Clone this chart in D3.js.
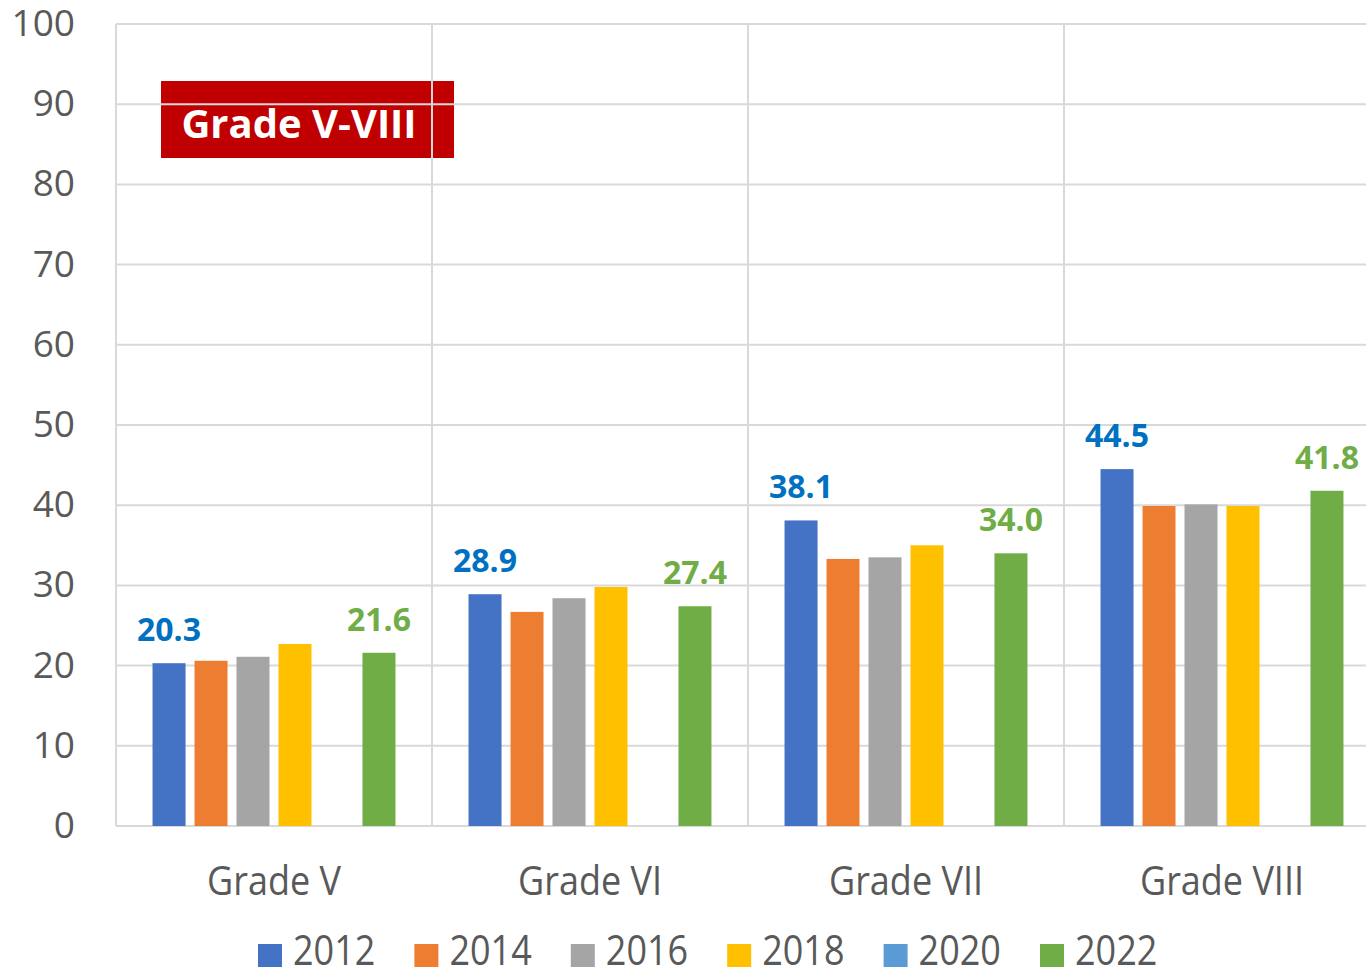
<!DOCTYPE html>
<html>
<head>
<meta charset="utf-8">
<style>
    body { margin: 0; background: #fff; }
    svg { display: block; font-family: 'Open Sans', 'Noto Sans', sans-serif; }
</style>
</head>
<body>
<svg width="1366" height="970"></svg>

<script src="https://d3js.org/d3.v7.min.js"></script>
<script>
    // data
    const grades = ["Grade V", "Grade VI", "Grade VII", "Grade VIII"];
    const years = ["2012", "2014", "2016", "2018", "2020", "2022"];
    const colors = ["#4472C4", "#ED7D31", "#A5A5A5", "#FFC000", "#5B9BD5", "#70AD47"];
    const v2012 = [20.3, 28.9, 38.1, 44.5];
    const v2014 = [20.6, 26.7, 33.3, 39.9];
    const v2016 = [21.1, 28.4, 33.5, 40.1];
    const v2018 = [22.7, 29.8, 35.0, 39.9];
    const v2020 = [null, null, null, null];
    const v2022 = [21.6, 27.4, 34.0, 41.8];
    const yTicks = [0, 10, 20, 30, 40, 50, 60, 70, 80, 90, 100];

    const series = [v2012, v2014, v2016, v2018, v2020, v2022];

    let svg = d3.select("svg");
    let plotLeft = 116, plotRight = 1380, plotTop = 24, plotBottom = 826;

    let x = d3.scaleBand().domain(grades).range([plotLeft, plotRight]);
    let xi = d3.scaleBand().domain(years).range([0, x.bandwidth()])
        .paddingInner(0.214).paddingOuter(0.87);
    let y = d3.scaleLinear().domain([0, 100]).range([plotBottom, plotTop]);

    // title box (sits under the gridlines)
    svg.append("rect")
        .attr("x", 161).attr("y", 81).attr("width", 293).attr("height", 77)
        .style("fill", "#C00000");
    svg.append("text")
        .attr("x", 299).attr("y", 138)
        .attr("text-anchor", "middle")
        .style("font-size", "40px").style("font-weight", "bold")
        .style("fill", "#fff")
        .text("Grade V-VIII");

    // horizontal gridlines
    svg.append("g").selectAll("line")
        .data(yTicks)
        .join("line")
        .attr("x1", plotLeft).attr("x2", plotRight)
        .attr("y1", d => y(d)).attr("y2", d => y(d))
        .style("stroke", "#D9D9D9").style("stroke-width", 2);

    // vertical gridlines at category boundaries
    svg.append("g").selectAll("line")
        .data(grades)
        .join("line")
        .attr("x1", d => x(d)).attr("x2", d => x(d))
        .attr("y1", plotTop).attr("y2", plotBottom)
        .style("stroke", "#D9D9D9").style("stroke-width", 2);

    // y tick labels
    svg.append("g").selectAll("text")
        .data(yTicks)
        .join("text")
        .attr("x", 75).attr("y", d => y(d) + 12)
        .attr("text-anchor", "end")
        .style("font-size", "37px").style("fill", "#595959")
        .text(d => d);

    // bars
    let flat = [];
    series.forEach((s, si) => {
        s.forEach((v, gi) => {
            if (v != null) flat.push({ grade: grades[gi], year: years[si], color: colors[si], value: v });
        });
    });

    svg.append("g").selectAll("rect")
        .data(flat)
        .join("rect")
        .attr("x", d => x(d.grade) + xi(d.year))
        .attr("y", d => y(d.value))
        .attr("width", xi.bandwidth())
        .attr("height", d => y(0) - y(d.value))
        .style("fill", d => d.color);

    // value labels for 2012 and 2022
    let labelled = flat.filter(d => d.year == "2012" || d.year == "2022");
    svg.append("g").selectAll("text")
        .data(labelled)
        .join("text")
        .attr("x", d => x(d.grade) + xi(d.year) + xi.bandwidth() / 2)
        .attr("y", d => y(d.value) - 22)
        .attr("text-anchor", "middle")
        .style("font-size", "32px").style("font-weight", "bold")
        .style("fill", d => d.year == "2012" ? "#0070C0" : "#70AD47")
        .text(d => d.value.toFixed(1));

    // category labels
    svg.append("g").selectAll("text")
        .data(grades)
        .join("text")
        .attr("transform", d => "translate(" + (x(d) + x.bandwidth() / 2) + ",895) scale(1,1.1)")
        .attr("text-anchor", "middle")
        .style("font-size", "36px").style("fill", "#595959")
        .text(d => d);

    // legend
    let legend = svg.append("g").selectAll("g")
        .data(years)
        .join("g")
        .attr("transform", (d, i) => "translate(" + (258 + i * 156.4) + ",0)");
    legend.append("rect")
        .attr("x", 0).attr("y", 944).attr("width", 24).attr("height", 23)
        .style("fill", (d, i) => colors[i]);
    legend.append("text")
        .attr("transform", "translate(35,965) scale(1,1.15)")
        .style("font-size", "36px").style("fill", "#595959")
        .text(d => d);
</script>
</body>
</html>
